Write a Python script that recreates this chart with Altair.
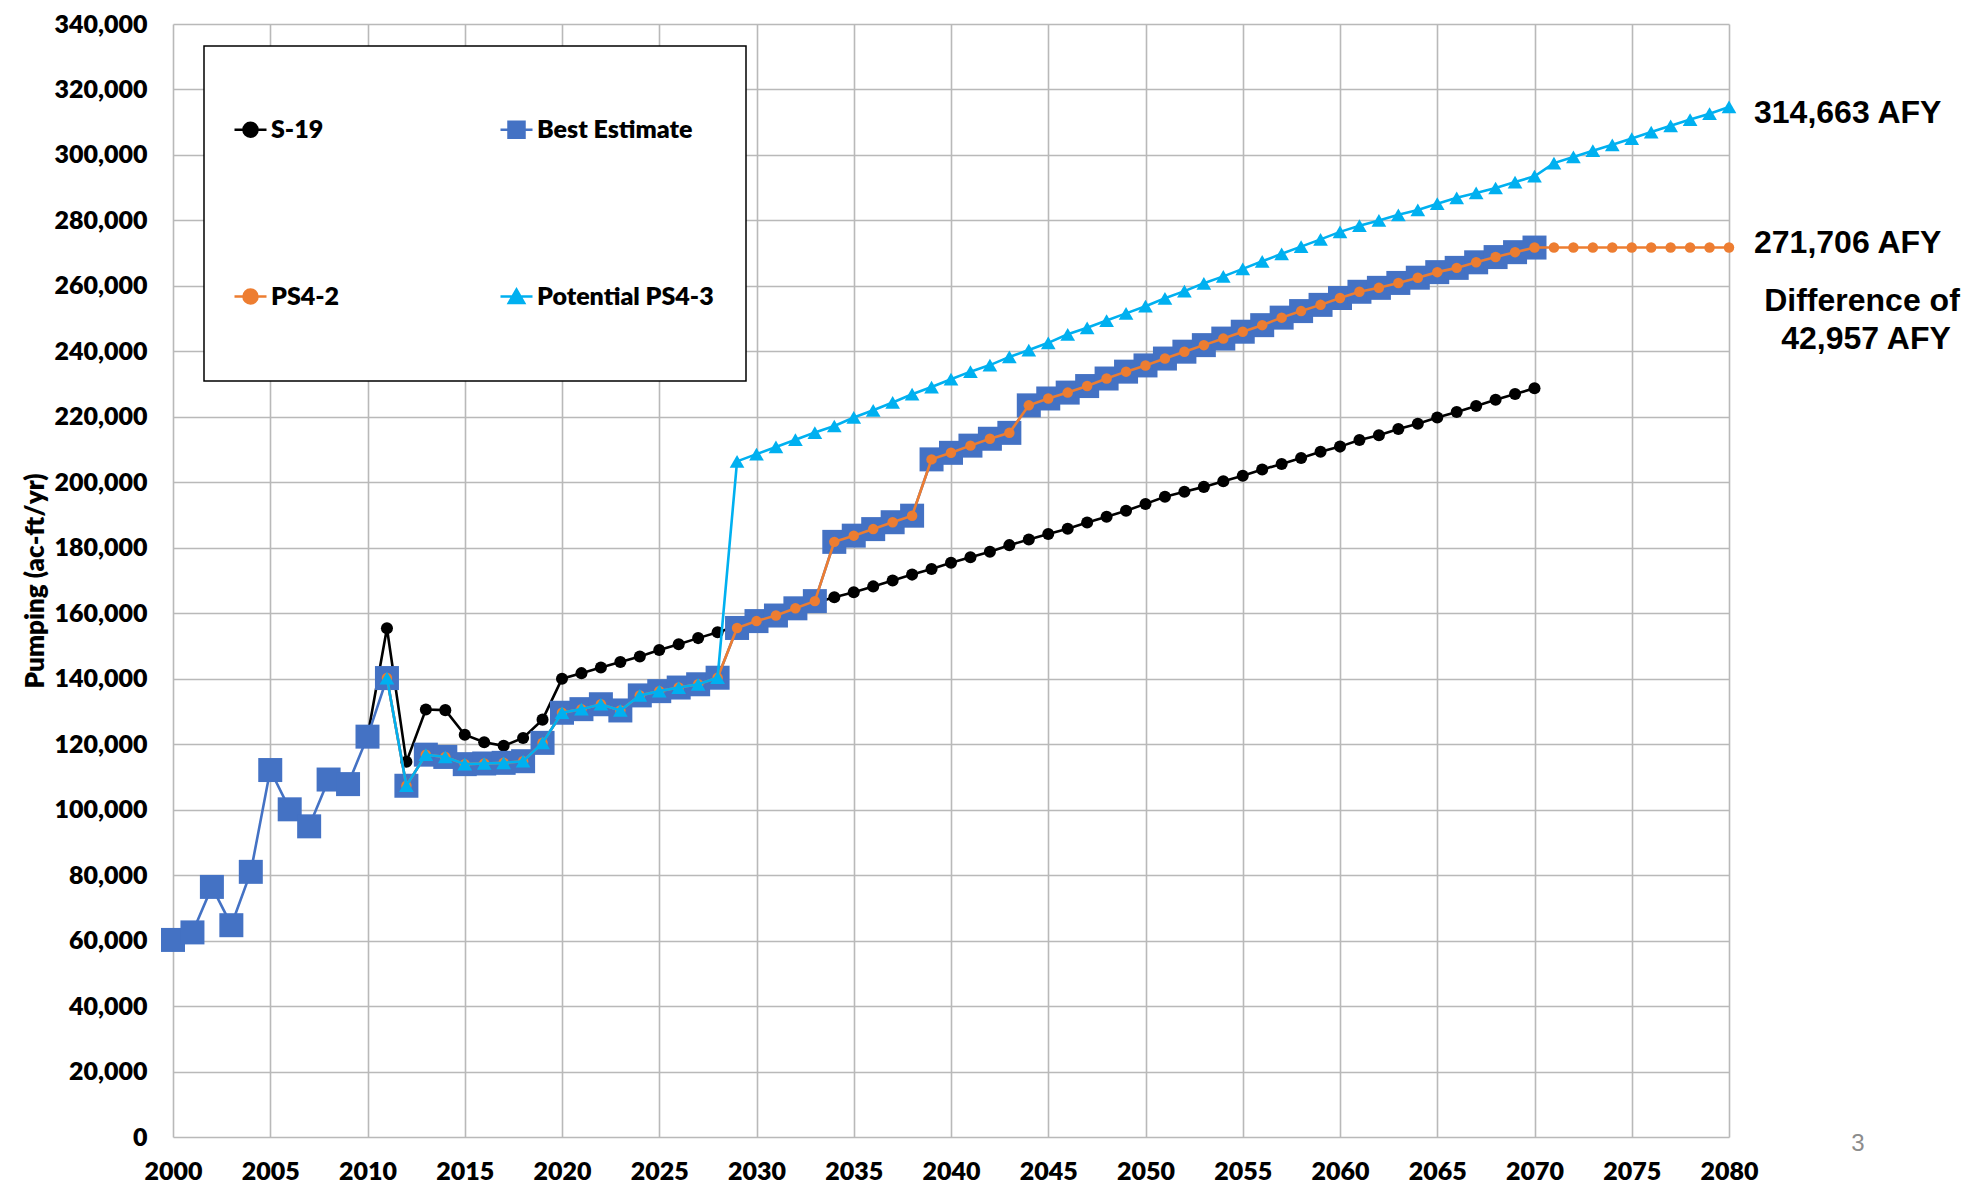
import altair as alt
import pandas as pd

# ---------------- data ----------------
series_names = ["S-19", "Best Estimate", "PS4-2", "Potential PS4-3"]
series_colors = ["#000000", "#4472C4", "#ED7D31", "#00B0F0"]
# legend fills column by column: S-19 / PS4-2 on the left, the rest on the right
legend_order = ["S-19", "PS4-2", "Best Estimate", "Potential PS4-3"]

years_best = list(range(2000, 2071))
best_estimate = [
    60200, 62500, 76400, 64700, 81000, 112100, 100100, 94900, 109200, 107800,
    122300, 140200, 107300, 116800, 116100, 113900, 114100, 114300, 114800, 120400,
    129600, 130700, 132200, 130300, 134900, 136200, 137300, 138300, 140300, 155500,
    157600, 159300, 161500, 163700, 181800, 183700, 185700, 187800, 189800, 207000,
    209000, 211200, 213300, 215100, 223500, 225600, 227400, 229400, 231700, 233800,
    235700, 237800, 239900, 241900, 243900, 246000, 248000, 250300, 252300, 254200,
    256300, 258200, 259400, 260900, 262500, 264200, 265500, 267200, 268800, 270300,
    271706,
]

years_s19 = list(range(2010, 2071))
s19 = [
    122300, 155400, 114600, 130600, 130400, 122900, 120600, 119500, 121900, 127500,
    140000, 141700, 143400, 145100, 146800, 148800, 150500, 152400, 154200, 156000,
    157900, 159700, 161400, 163100, 164900, 166400, 168200, 170000, 171800, 173500,
    175400, 177100, 178800, 180800, 182500, 184200, 185800, 187700, 189500, 191300,
    193400, 195600, 197100, 198600, 200300, 202000, 203900, 205600, 207400, 209300,
    210900, 212900, 214400, 216300, 217900, 219800, 221500, 223300, 225200, 227000,
    228700,
]

years_ps42 = list(range(2011, 2081))
ps4_2 = [
    140200, 107300, 116800, 116100, 113900, 114100, 114300, 114800, 120400,
    129600, 130700, 132200, 130300, 134900, 136200, 137300, 138300, 140300, 155500,
    157600, 159300, 161500, 163700, 181800, 183700, 185700, 187800, 189800, 207000,
    209000, 211200, 213300, 215100, 223500, 225600, 227400, 229400, 231700, 233800,
    235700, 237800, 239900, 241900, 243900, 246000, 248000, 250300, 252300, 254200,
    256300, 258200, 259400, 260900, 262500, 264200, 265500, 267200, 268800, 270300,
    271706, 271706, 271706, 271706, 271706, 271706, 271706, 271706, 271706, 271706,
    271706,
]

years_ps43 = list(range(2011, 2081))
ps4_3 = [
    140200, 107300, 116800, 116100, 113900, 114100, 114300, 114800, 120400,
    129600, 130700, 132200, 130300, 134900, 136200, 137300, 138300, 140300, 206400,
    208600, 210800, 213000, 215200, 217200, 219800, 222000, 224400, 226900, 229100,
    231500, 233800, 235800, 238300, 240400, 242600, 245200, 247200, 249400, 251600,
    253800, 256200, 258400, 260800, 262900, 265200, 267500, 269800, 272000, 274200,
    276500, 278400, 280000, 281700, 283200, 285100, 286900, 288400, 289900, 291700,
    293500, 297500, 299400, 301300, 303100, 305000, 307000, 308900, 310800, 312600,
    314663,
]

x_ticks = list(range(2000, 2081, 5))
y_ticks = list(range(0, 340001, 20000))

end_years = [2080, 2080]
end_values = [314663, 271706]
end_labels = ["314,663 AFY", "271,706 AFY"]
diff_lines = ["Difference of", "42,957 AFY"]
page_number = "3"

# legend symbols: a short line with the series marker on it
CIRCLE_PATH = "M-1,0H1M-0.44,0A0.44,0.44,0,1,0,0.44,0A0.44,0.44,0,1,0,-0.44,0Z"
legend_path_by_series = {
    "S-19": CIRCLE_PATH,
    "Best Estimate": "M-1,0H1M-0.5,-0.5H0.5V0.5H-0.5Z",
    "PS4-2": CIRCLE_PATH,
    "Potential PS4-3": "M-1,0H1M-0.48,0.4L0,-0.44L0.48,0.4Z",
}

# ---------------- tables ----------------
rows = []
for name, yrs, vals in [
    ("S-19", years_s19, s19),
    ("Best Estimate", years_best, best_estimate),
    ("PS4-2", years_ps42, ps4_2),
    ("Potential PS4-3", years_ps43, ps4_3),
]:
    for yr, v in zip(yrs, vals):
        rows.append({"year": yr, "value": v, "series": name})
df = pd.DataFrame(rows)

ann_df = pd.DataFrame({"year": end_years, "value": end_values, "label": end_labels})
diff_df = pd.DataFrame({"year": [2080], "value": [end_values[1]],
                        "l1": [diff_lines[0]], "l2": [diff_lines[1]]})
one_df = pd.DataFrame({"a": [0]})

FONT = "Lato"
WEIGHT = 800
ANN_FONT = "Liberation Sans"
GRID = "#b9b9b9"

color_by_series = dict(zip(series_names, series_colors))
legend_colors = [color_by_series[s] for s in legend_order]
legend_paths = [legend_path_by_series[s] for s in legend_order]

x_enc = alt.X(
    "year:Q",
    scale=alt.Scale(domain=[2000, 2080], nice=False, zero=False),
    axis=alt.Axis(
        values=x_ticks, format="d", title=None, ticks=False, domain=False,
        grid=True, gridColor=GRID, gridWidth=1.6, labelFlush=False,
        labelFont=FONT, labelFontWeight=WEIGHT, labelFontSize=25,
        labelColor="#000000", labelPadding=22,
    ),
)
y_enc = alt.Y(
    "value:Q",
    scale=alt.Scale(domain=[0, 340000], nice=False),
    axis=alt.Axis(
        values=y_ticks, format=",d", title="Pumping (ac-ft/yr)", ticks=False,
        domain=False, grid=True, gridColor=GRID, gridWidth=1.6,
        labelFont=FONT, labelFontWeight=WEIGHT, labelFontSize=25,
        labelColor="#000000", labelPadding=26,
        titleFont=FONT, titleFontWeight=WEIGHT, titleFontSize=26,
        titleColor="#000000", titlePadding=5,
    ),
)

legend_def = alt.Legend(
    title=None, orient="none", legendX=60, legendY=88, columns=2, padding=0,
    rowPadding=136, columnPadding=155, symbolSize=1024, symbolStrokeWidth=2.5,
    symbolOpacity=1, labelFont=FONT, labelFontWeight=WEIGHT, labelFontSize=25,
    labelColor="#000000", labelOffset=3, labelLimit=400,
)

color_enc = alt.Color(
    "series:N",
    scale=alt.Scale(domain=series_names, range=series_colors),
    legend=None,
)

base = alt.Chart(df)

legend_box = alt.Chart(one_df).mark_rect(
    fill="white", stroke="#000000", strokeWidth=1.5
).encode(x=alt.value(31), x2=alt.value(573), y=alt.value(22), y2=alt.value(357))

# empty layer that only carries the legend (fill + stroke + shape merged)
legend_layer = base.transform_filter("datum.year < 0").mark_point(
    filled=True, opacity=1, strokeWidth=2.5
).encode(
    x=x_enc,
    y=y_enc,
    fill=alt.Fill("series:N", scale=alt.Scale(domain=legend_order, range=legend_colors),
                  legend=legend_def),
    stroke=alt.Stroke("series:N", scale=alt.Scale(domain=legend_order, range=legend_colors),
                      legend=legend_def),
    shape=alt.Shape("series:N", scale=alt.Scale(domain=legend_order, range=legend_paths),
                    legend=legend_def),
)

layers = [legend_box, legend_layer]
marker_styles = {
    "S-19": ("circle", 145),
    "Best Estimate": ("square", 576),
    "PS4-2": ("circle", 110),
    "Potential PS4-3": ("triangle-up", 216),
}
for name in series_names:
    shp, sz = marker_styles[name]
    sub = base.transform_filter(alt.datum.series == name)
    layers.append(
        sub.mark_line(strokeWidth=2.6).encode(x=x_enc, y=y_enc, color=color_enc)
    )
    layers.append(
        sub.mark_point(shape=shp, size=sz, filled=True, opacity=1, strokeWidth=0).encode(
            x=x_enc, y=y_enc, color=color_enc
        )
    )

end_text_top = alt.Chart(ann_df.iloc[[0]]).mark_text(
    align="left", baseline="middle", dx=25, dy=6, font=ANN_FONT,
    fontWeight="bold", fontSize=32, color="#000000",
).encode(x="year:Q", y="value:Q", text="label:N")

end_text_mid = alt.Chart(ann_df.iloc[[1]]).mark_text(
    align="left", baseline="middle", dx=25, dy=-5, font=ANN_FONT,
    fontWeight="bold", fontSize=32, color="#000000",
).encode(x="year:Q", y="value:Q", text="label:N")

diff_text1 = alt.Chart(diff_df).mark_text(
    align="center", baseline="middle", dx=133, dy=53, font=ANN_FONT,
    fontWeight="bold", fontSize=32, color="#000000",
).encode(x="year:Q", y="value:Q", text="l1:N")

diff_text2 = alt.Chart(diff_df).mark_text(
    align="center", baseline="middle", dx=137, dy=91, font=ANN_FONT,
    fontWeight="bold", fontSize=32, color="#000000",
).encode(x="year:Q", y="value:Q", text="l2:N")

page_text = alt.Chart(one_df).mark_text(
    align="center", baseline="middle", font=ANN_FONT, fontSize=24, color="#8c8c8c"
).encode(x=alt.value(1685), y=alt.value(1120), text=alt.value(page_number))

chart = alt.layer(
    *layers, end_text_top, end_text_mid, diff_text1, diff_text2, page_text
).properties(
    width=1556,
    height=1113,
    autosize=alt.AutoSizeParams(type="none"),
    padding={"left": 165, "top": 16, "right": 235, "bottom": 48},
    background="white",
).configure_view(strokeWidth=0)

chart.save("out.html", embed_options={"renderer": "svg", "actions": False})
